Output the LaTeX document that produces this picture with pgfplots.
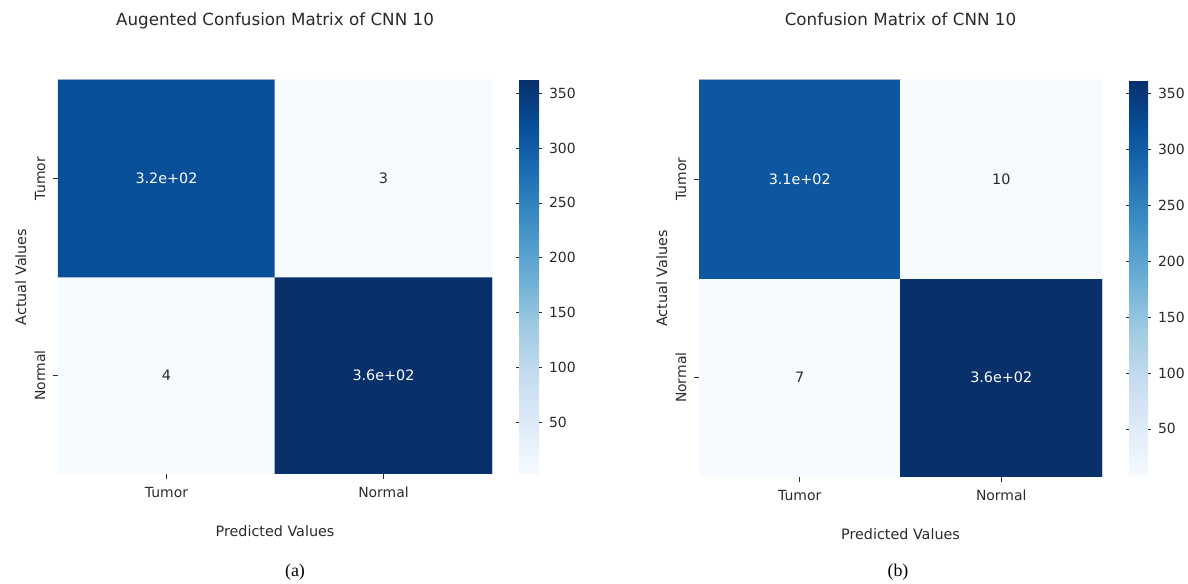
\documentclass[border=0pt]{standalone}
\usepackage{pgfplots}
\pgfplotsset{compat=1.18}
\usepackage{fontspec}
\setmainfont{DejaVu Sans}
\newfontfamily\capfont{Liberation Serif}
\definecolor{txt}{HTML}{2A2A2A}

\pgfplotsset{
  colormap={blues}{rgb255=(247,251,255) rgb255=(222,235,247) rgb255=(198,219,239) rgb255=(158,202,225) rgb255=(107,174,214) rgb255=(66,146,198) rgb255=(33,113,181) rgb255=(8,81,156) rgb255=(8,48,107)},
  heat/.style={
    scale only axis,
    xmin=-0.5, xmax=1.5, ymin=-0.5, ymax=1.5,
    xtick={0,1}, xticklabels={Tumor,Normal},
    ytick={0,1}, yticklabels={Normal,Tumor},
    xtick pos=lower, ytick pos=left,
    tick align=outside,
    major tick length=2.5bp,
    tick style={txt, line width=0.4bp},
    axis line style={draw=none},
    ticklabel style={font=\fontsize{7}{8}\selectfont, text=txt},
    xticklabel style={anchor=base, yshift=-9bp},
    yticklabel style={rotate=90, anchor=base, yshift=4bp},
    xlabel={Predicted Values}, ylabel={Actual Values},
    xlabel style={font=\fontsize{7.2}{8}\selectfont, text=txt, at={(axis description cs:0.5,0)}, anchor=base, yshift=-31bp},
    ylabel style={font=\fontsize{7.2}{8}\selectfont, text=txt, anchor=base},
    title style={font=\fontsize{8.4}{10}\selectfont, text=txt, at={(axis description cs:0.5,1)}, anchor=base, yshift=21.5bp},
    colormap name=blues,
    /pgf/number format/assume math mode=true,
    colorbar,
  },
  cb/.style={
    colorbar style={
      width=#1,
      ytick={50,100,...,350},
      yticklabel pos=right,
      tick align=outside,
      major tick length=1.5bp,
      tick style={txt, line width=0.4bp},
      axis line style={draw=none},
      /pgf/number format/assume math mode=true,
      yticklabel style={font=\fontsize{7}{8}\selectfont, text=txt},
    }
  },
  cellw/.style={only marks, mark=none, nodes near coords, point meta=explicit symbolic,
    nodes near coords style={anchor=center, font=\fontsize{7.2}{8}\selectfont, text=white}},
  celld/.style={only marks, mark=none, nodes near coords, point meta=explicit symbolic,
    nodes near coords style={anchor=center, font=\fontsize{7.2}{8}\selectfont, text=txt}},
}

\begin{document}
\begin{tikzpicture}
\useasboundingbox (0,0) rectangle (594bp,292bp);

% (a)
\begin{axis}[heat, name=axa,
  at={(29bp,55bp)}, anchor=south west,
  width=217bp, height=197bp,
  title={Augented Confusion Matrix of CNN 10},
  ylabel style={at={(axis description cs:-0.0737,0.5)}},
  point meta min=3, point meta max=362,
  cb=10bp,
  colorbar style={at={(parent axis.north east)}, anchor=north west, xshift=5bp},
]
\addplot[matrix plot*, mesh/cols=2, point meta=explicit] table[meta=c, row sep=\\] {
x y c \\
0 0 4 \\
1 0 362 \\
0 1 320 \\
1 1 3 \\
};
\addplot[cellw] table[meta=l, row sep=\\] {
x y l \\
0 1 3.2e+02 \\
1 0 3.6e+02 \\
};
\addplot[celld] table[meta=l, row sep=\\] {
x y l \\
1 1 3 \\
0 0 4 \\
};
\end{axis}

% (b)
\begin{axis}[heat, name=axb,
  at={(349.5bp,53.5bp)}, anchor=south west,
  width=201.5bp, height=198.5bp,
  title={Confusion Matrix of CNN 10},
  ylabel style={at={(axis description cs:-0.0794,0.5)}},
  point meta min=7, point meta max=362,
  cb=9.5bp,
  colorbar style={at={(parent axis.north east)}, anchor=north west, xshift=5bp},
]
\addplot[matrix plot*, mesh/cols=2, point meta=explicit] table[meta=c, row sep=\\] {
x y c \\
0 0 7 \\
1 0 362 \\
0 1 310 \\
1 1 10 \\
};
\addplot[cellw] table[meta=l, row sep=\\] {
x y l \\
0 1 3.1e+02 \\
1 0 3.6e+02 \\
};
\addplot[celld] table[meta=l, row sep=\\] {
x y l \\
1 1 10 \\
0 0 7 \\
};
\end{axis}

\node[font=\capfont\fontsize{9}{10}\selectfont, anchor=base] at (147.5bp,4bp) {(a)};
\node[font=\capfont\fontsize{9}{10}\selectfont, anchor=base] at (449bp,4bp) {(b)};
\end{tikzpicture}
\end{document}
